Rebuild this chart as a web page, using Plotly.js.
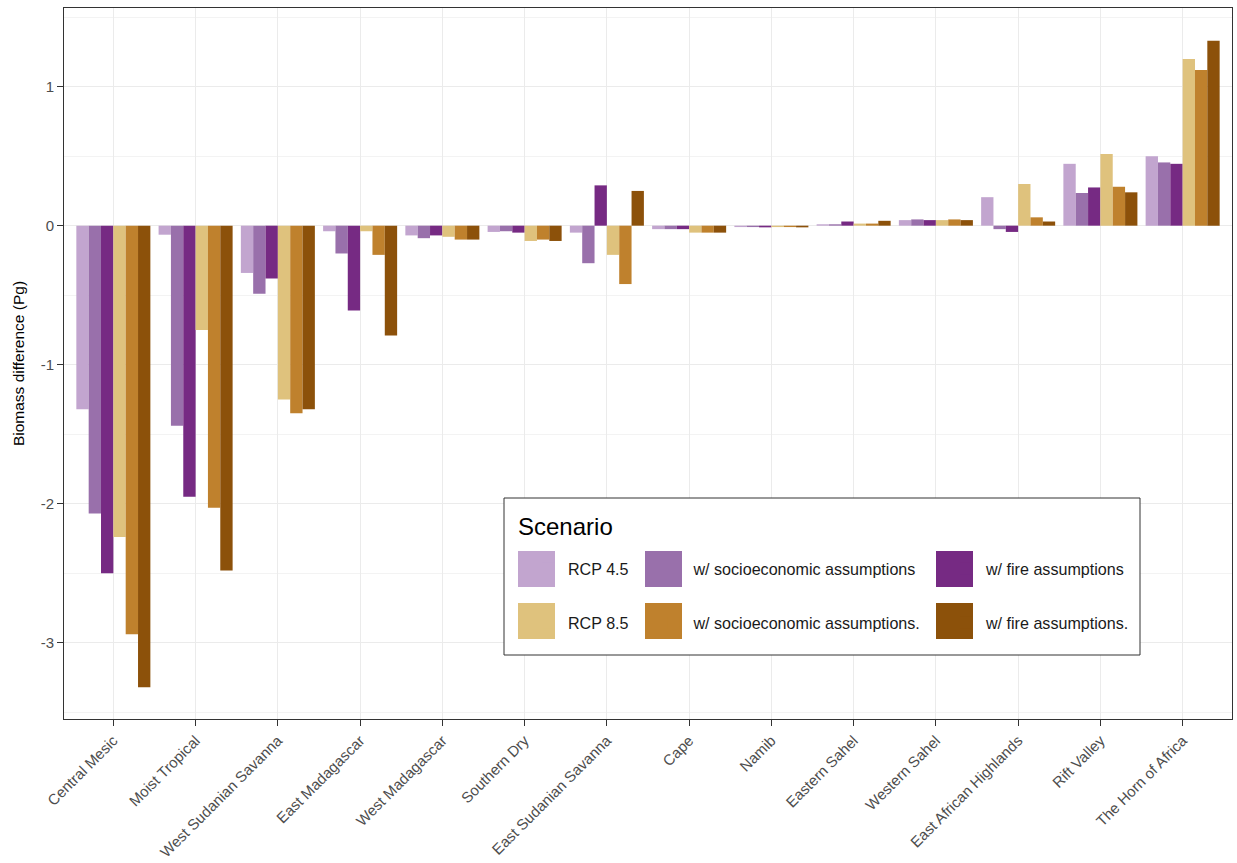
<!DOCTYPE html>
<html>
<head>
<meta charset="utf-8">
<script src="https://cdn.plot.ly/plotly-3.0.1.min.js"></script>
<style>html,body{margin:0;padding:0;background:#fff;}#chart{width:1237px;height:863px;}</style>
</head>
<body>
<div id="chart"></div>
<script>
const categories = ["Central Mesic","Moist Tropical","West Sudanian Savanna","East Madagascar","West Madagascar","Southern Dry","East Sudanian Savanna","Cape","Namib","Eastern Sahel","Western Sahel","East African Highlands","Rift Valley","The Horn of Africa"];
const seriesNames = ["RCP 4.5","w/ socioeconomic assumptions","w/ fire assumptions","RCP 8.5","w/ socioeconomic assumptions.","w/ fire assumptions."];
const rcp45       = [-1.32,-0.065,-0.34,-0.04,-0.07,-0.045,-0.05,-0.025,-0.01,0.01,0.04,0.205,0.445,0.50];
const rcp45Socio  = [-2.07,-1.44,-0.49,-0.20,-0.09,-0.04,-0.27,-0.025,-0.01,0.01,0.045,-0.025,0.235,0.455];
const rcp45Fire   = [-2.50,-1.95,-0.38,-0.61,-0.07,-0.05,0.29,-0.025,-0.012,0.03,0.04,-0.045,0.275,0.445];
const rcp85       = [-2.24,-0.75,-1.25,-0.04,-0.08,-0.11,-0.21,-0.05,-0.01,0.015,0.04,0.30,0.515,1.20];
const rcp85Socio  = [-2.94,-2.03,-1.35,-0.21,-0.10,-0.10,-0.42,-0.05,-0.01,0.015,0.045,0.06,0.28,1.12];
const rcp85Fire   = [-3.32,-2.48,-1.32,-0.79,-0.10,-0.11,0.25,-0.05,-0.012,0.035,0.04,0.03,0.24,1.33];
const yTicks = [-3,-2,-1,0,1];

const values = [rcp45, rcp45Socio, rcp45Fire, rcp85, rcp85Socio, rcp85Fire];
const colors = ["#C2A5CF","#9970AB","#762A83","#DFC27D","#BF812D","#8C510A"];
const legendIds = ["legend","legend2","legend3","legend","legend2","legend3"];

const traces = values.map((v,i)=>({
  type:"bar", x:categories, y:v, name:seriesNames[i],
  marker:{color:colors[i], line:{width:0}},
  legend:legendIds[i], legendgroup:"g"+i, legendrank:i
}));

// plot-area pixel geometry helpers (paper coords)
const L=64, R=1232, T=8, B=719;
const px = x => (x-L)/(R-L);
const py = y => (B-y)/(B-T);

const legFont = {family:"Liberation Sans, Arial, sans-serif", size:16.1, color:"#1a1a1a"};
const legBase = {orientation:"v", xanchor:"left", yanchor:"top", y:py(552), bgcolor:"rgba(0,0,0,0)", borderwidth:0, font:legFont, tracegroupgap:30, itemclick:false};

// large legend keys drawn behind the native legend symbols
const keyX = [518, 645, 936];
const keyY = [551, 603];
const keyShapes = [];
colors.forEach((c,i)=>{
  const col = i%3, row = Math.floor(i/3);
  keyShapes.push({type:"rect", xref:"paper", yref:"paper",
    x0:px(keyX[col]), x1:px(keyX[col]+37), y0:py(keyY[row]+36), y1:py(keyY[row]),
    line:{width:0}, fillcolor:c, layer:"above"});
});

const layout = {
  width:1237, height:863,
  margin:{l:L, r:1237-R, t:T, b:863-B},
  paper_bgcolor:"#fff", plot_bgcolor:"#fff",
  font:{family:"Liberation Sans, Arial, sans-serif", size:15, color:"#4D4D4D"},
  barmode:"group", bargap:0.1, bargroupgap:0,
  xaxis:{
    type:"category", tickangle:-45, showgrid:true, gridcolor:"#EBEBEB", gridwidth:1.1,
    showline:true, mirror:true, linecolor:"#333333", linewidth:1,
    ticks:"outside", ticklen:6, tickcolor:"#333333", tickwidth:1.1,
    tickfont:{size:15, color:"#4D4D4D"}, range:[-0.6, 13.6]
  },
  yaxis:{
    range:[-3.549, 1.566], tickvals:yTicks, ticktext:yTicks.map(String),
    showgrid:true, gridcolor:"#EBEBEB", gridwidth:1.1, zeroline:false,
    minor:{tickvals:[-3.5,-2.5,-1.5,-0.5,0.5,1.5], showgrid:true, gridcolor:"#EBEBEB", gridwidth:0.6},
    showline:true, mirror:true, linecolor:"#333333", linewidth:1,
    ticks:"outside", ticklen:6, tickcolor:"#333333", tickwidth:1.1,
    tickfont:{size:15, color:"#4D4D4D"},
    title:{text:"Biomass difference (Pg)", font:{size:15.5, color:"#000"}, standoff:12}
  },
  legend:Object.assign({}, legBase, {x:px(528)}),
  legend2:Object.assign({}, legBase, {x:px(653.5)}),
  legend3:Object.assign({}, legBase, {x:px(946)}),
  shapes:[{type:"rect", xref:"paper", yref:"paper", x0:px(504), x1:px(1140), y0:py(655), y1:py(498), line:{color:"#333333", width:1}, fillcolor:"#ffffff", layer:"above"}].concat(keyShapes),
  annotations:[{text:"Scenario", xref:"paper", yref:"paper", x:px(516), y:py(526), xanchor:"left", yanchor:"middle", showarrow:false, font:{size:24, color:"#000"}}]
};

Plotly.newPlot("chart", traces, layout, {displayModeBar:false, staticPlot:true});
</script>
</body>
</html>
